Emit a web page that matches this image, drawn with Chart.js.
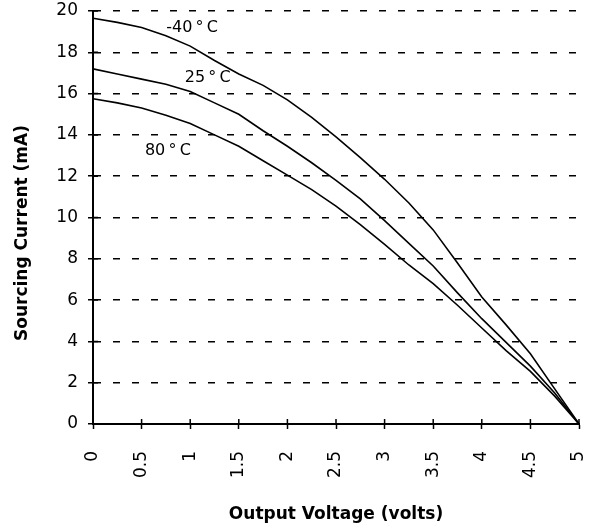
<!DOCTYPE html>
<html>
<head>
<meta charset="utf-8">
<script src="https://cdn.jsdelivr.net/npm/chart.js@4/dist/chart.umd.min.js"></script>
<style>
  html, body { margin: 0; padding: 0; background: #fff; }
  #wrap { width: 589px; height: 531px; }
</style>
</head>
<body>
<div id="wrap"><canvas id="myChart"></canvas></div>
<script>
const volts = [0, 0.25, 0.5, 0.75, 1, 1.25, 1.5, 1.75, 2, 2.25, 2.5, 2.75, 3, 3.25, 3.5, 3.75, 4, 4.25, 4.5, 4.75, 5];
const currentCold = [19.65, 19.45, 19.2, 18.8, 18.3, 17.6, 16.95, 16.4, 15.7, 14.85, 13.9, 12.9, 11.85, 10.7, 9.4, 7.8, 6.15, 4.8, 3.4, 1.7, 0];
const currentRoom = [17.2, 16.95, 16.7, 16.45, 16.1, 15.55, 15.0, 14.2, 13.45, 12.65, 11.8, 10.9, 9.85, 8.75, 7.65, 6.35, 5.1, 3.95, 2.8, 1.5, 0];
const currentHot = [15.75, 15.55, 15.3, 14.95, 14.55, 14.0, 13.45, 12.75, 12.05, 11.35, 10.55, 9.65, 8.7, 7.7, 6.8, 5.75, 4.65, 3.55, 2.55, 1.35, 0];
const xTicks = [0, 0.5, 1, 1.5, 2, 2.5, 3, 3.5, 4, 4.5, 5];
const yTicks = [0, 2, 4, 6, 8, 10, 12, 14, 16, 18, 20];
const seriesLabels = ['-40\u2009°\u2009C', '25\u2009°\u2009C', '80\u2009°\u2009C'];
const labelSpots = [[1.02, 19.2], [1.18, 16.75], [0.77, 13.25]];
const yTitle = 'Sourcing Current (mA)';

const font = 'DejaVu Sans, Arial, sans-serif';

function toPoints(ys) {
  return volts.map((v, i) => ({ x: v, y: ys[i] }));
}

// short ticks on the inner side of both axes, the curve labels and the y title
const extras = {
  id: 'extras',
  afterDraw(chart) {
    const c = chart.ctx;
    const xs = chart.scales.x, ys = chart.scales.y;
    c.save();
    c.strokeStyle = '#000';
    c.lineWidth = 1.5;
    c.beginPath();
    xTicks.forEach(t => {
      const px = xs.getPixelForValue(t);
      c.moveTo(px, ys.bottom);
      c.lineTo(px, ys.bottom - 5);
    });
    yTicks.forEach(t => {
      const py = ys.getPixelForValue(t);
      c.moveTo(xs.left, py);
      c.lineTo(xs.left + 5, py);
    });
    c.stroke();
    c.fillStyle = '#000';
    c.font = '16px ' + font;
    c.textAlign = 'center';
    c.textBaseline = 'middle';
    seriesLabels.forEach((s, i) => {
      c.fillText(s, xs.getPixelForValue(labelSpots[i][0]), ys.getPixelForValue(labelSpots[i][1]));
    });
    c.font = 'bold 17px ' + font;
    c.translate(23, 233);
    c.rotate(-Math.PI / 2);
    c.fillText(yTitle, 0, 0);
    c.restore();
  }
};

const line = { borderColor: '#000', borderWidth: 1.6, pointRadius: 0, tension: 0, fill: false };

new Chart(document.getElementById('myChart'), {
  type: 'line',
  data: {
    datasets: [
      Object.assign({ label: seriesLabels[0], data: toPoints(currentCold) }, line),
      Object.assign({ label: seriesLabels[1], data: toPoints(currentRoom) }, line),
      Object.assign({ label: seriesLabels[2], data: toPoints(currentHot) }, line),
    ],
  },
  options: {
    responsive: true,
    maintainAspectRatio: false,
    animation: false,
    layout: { padding: { left: 0, right: 10, top: 11, bottom: 0 } },
    plugins: { legend: { display: false }, tooltip: { enabled: false } },
    scales: {
      x: {
        type: 'linear',
        min: 0,
        max: 5,
        afterBuildTicks: s => { s.ticks = xTicks.map(v => ({ value: v })); },
        afterFit: s => { s.height = 107; s.paddingLeft = 0; s.paddingRight = 0; },
        border: { color: '#000', width: 2 },
        grid: { drawOnChartArea: false, color: '#000', tickLength: 5, tickWidth: 1.5 },
        ticks: {
          color: '#000',
          font: { family: font, size: 17 },
          maxRotation: 90,
          minRotation: 90,
          padding: 22,
          autoSkip: false,
          callback: v => String(v),
        },
        title: {
          display: true,
          text: 'Output Voltage (volts)',
          color: '#000',
          font: { family: font, size: 17, weight: 'bold' },
          padding: { top: 0, bottom: 6 },
        },
      },
      y: {
        min: 0,
        max: 20,
        afterBuildTicks: s => { s.ticks = yTicks.map(v => ({ value: v })); },
        afterFit: s => { s.width = 93; s.paddingTop = 0; s.paddingBottom = 0; },
        border: { color: '#000', width: 2, dash: [7, 12] },
        grid: { color: '#000', lineWidth: 1.5, tickLength: 5, tickWidth: 1.5, tickBorderDash: [] },
        ticks: {
          color: '#000',
          font: { family: font, size: 17 },
          padding: 10,
        },
        title: { display: false },
      },
    },
  },
  plugins: [extras],
});
</script>
</body>
</html>
